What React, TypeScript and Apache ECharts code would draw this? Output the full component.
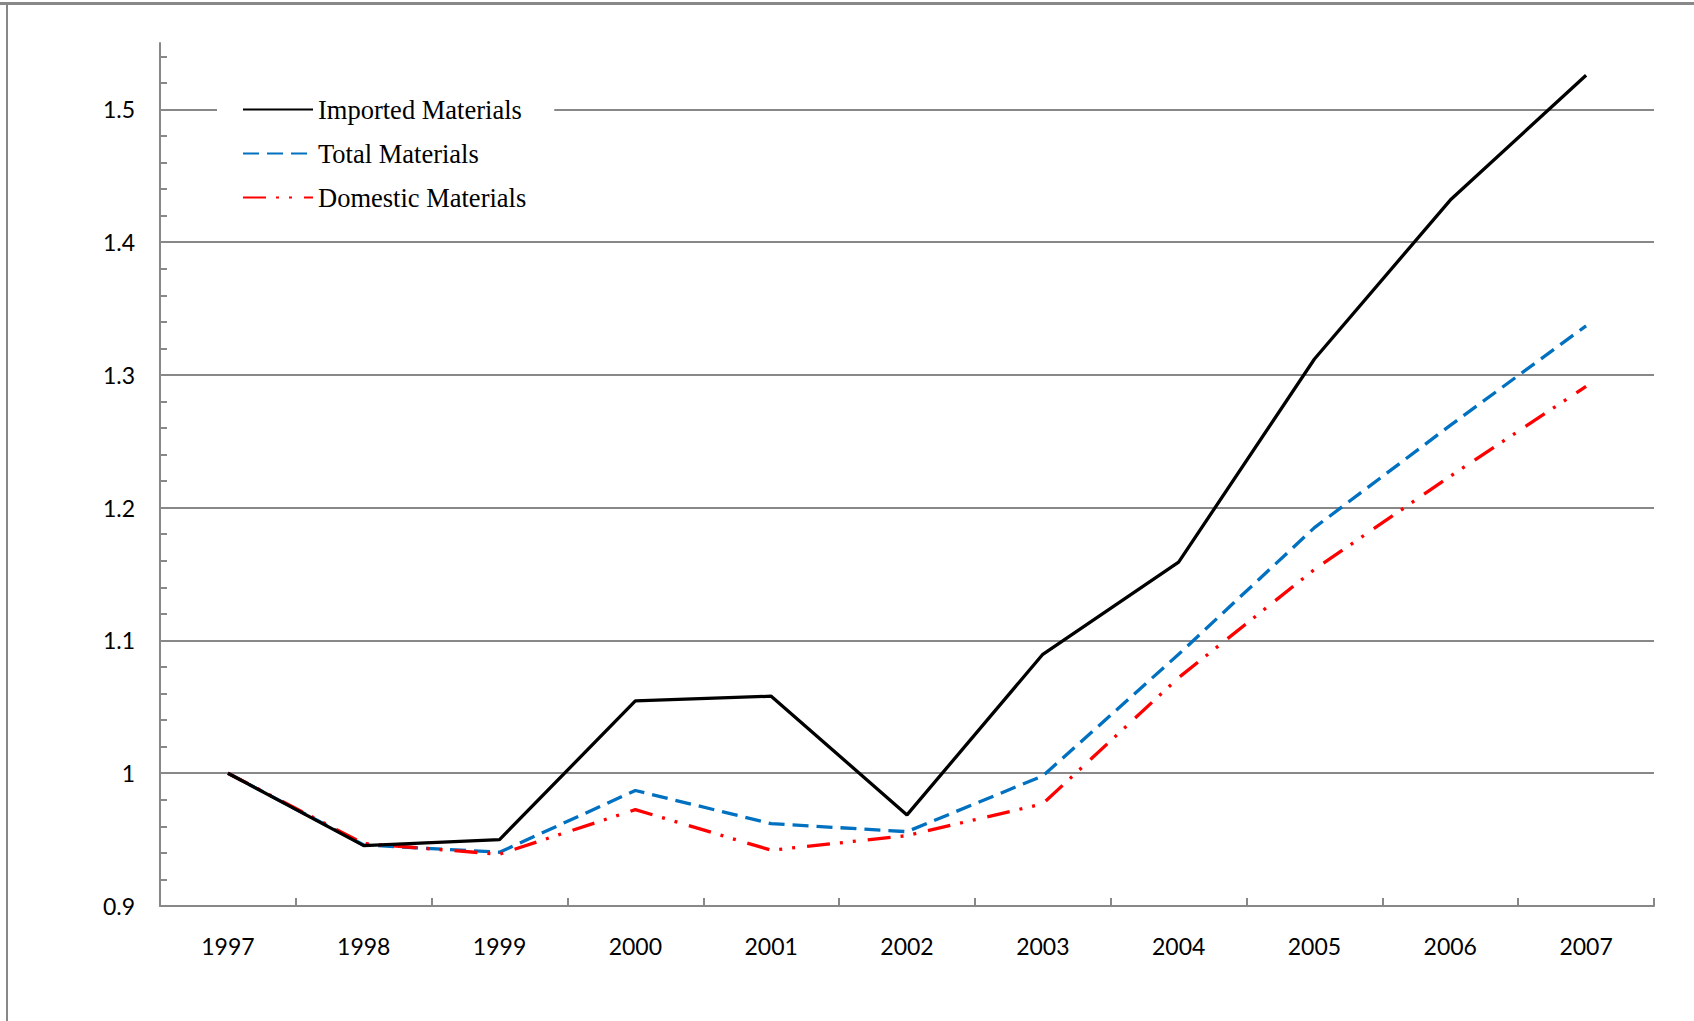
import React, { useEffect, useRef } from "react";
import * as echarts from "echarts";

const years = ["1997", "1998", "1999", "2000", "2001", "2002", "2003", "2004", "2005", "2006", "2007"];
const importedMaterials = [1.0, 0.9455, 0.95, 1.0545, 1.058, 0.9686, 1.0896, 1.159, 1.312, 1.4317, 1.5257];
const totalMaterials = [1.0, 0.946, 0.9405, 0.987, 0.962, 0.956, 0.998, 1.0896, 1.185, 1.262, 1.337];
const domesticMaterials = [1.0, 0.947, 0.939, 0.9726, 0.942, 0.953, 0.977, 1.072, 1.1535, 1.2237, 1.2914];
const yTickValues = [
  0.9, 0.92, 0.94, 0.96, 0.98, 1.0, 1.02, 1.04, 1.06, 1.08, 1.1, 1.12, 1.14, 1.16, 1.18, 1.2, 1.22,
  1.24, 1.26, 1.28, 1.3, 1.32, 1.34, 1.36, 1.38, 1.4, 1.42, 1.44, 1.46, 1.48, 1.5, 1.52, 1.54,
];
const seriesNames = ["Imported Materials", "Total Materials", "Domestic Materials"];

const GRAY = "#888888";

export default function App() {
  const ref = useRef<HTMLDivElement>(null);
  useEffect(() => {
    if (!ref.current) return;
    const chart = echarts.init(ref.current, undefined, { renderer: "svg" });
    const option: any = {
      animation: false,
      backgroundColor: "#ffffff",
      grid: { left: 160, right: 40, top: 43, bottom: 115, containLabel: false },
      legend: {
        orient: "vertical",
        left: 217,
        top: 86,
        padding: [10, 28, 10, 25],
        backgroundColor: "#ffffff",
        itemWidth: 70,
        itemHeight: 26,
        itemGap: 17,
        data: seriesNames,
        itemStyle: { opacity: 0 },
        textStyle: {
          fontFamily: "Liberation Serif",
          fontSize: 26.5,
          color: "#000000",
          lineHeight: 26,
        },
      },
      xAxis: {
        type: "category",
        data: years,
        boundaryGap: true,
        axisLine: { show: true, lineStyle: { color: GRAY, width: 2 } },
        axisTick: { show: true, inside: true, length: 8, interval: 0, lineStyle: { color: GRAY, width: 2 } },
        axisLabel: { fontFamily: "Lato", fontSize: 23, color: "#000000", margin: 28 },
        splitLine: { show: false },
      },
      yAxis: [
        {
          type: "value",
          min: 0.9,
          max: 1.55,
          interval: 0.1,
          axisLine: { show: true, lineStyle: { color: GRAY, width: 2 } },
          axisTick: { show: false },
          axisLabel: {
            fontFamily: "Lato",
            fontSize: 23,
            color: "#000000",
            margin: 25,
            showMaxLabel: false,
          },
          splitLine: { show: true, showMaxLine: false, lineStyle: { color: GRAY, width: 2 } },
        },
        {
          type: "value",
          position: "left",
          min: 0.9,
          max: 1.55,
          interval: 0.02,
          axisLine: { show: false },
          axisTick: {
            show: true,
            inside: true,
            length: 7,
            customValues: yTickValues,
            lineStyle: { color: GRAY, width: 2 },
          },
          axisLabel: { show: false },
          splitLine: { show: false },
        },
      ],
      series: [
        {
          name: seriesNames[0],
          type: "line",
          data: importedMaterials,
          symbol: "none",
          z: 4,
          lineStyle: { color: "#000000", width: 3.3, type: "solid" },
          itemStyle: { color: "#000000" },
        },
        {
          name: seriesNames[1],
          type: "line",
          data: totalMaterials,
          symbol: "none",
          z: 3,
          lineStyle: { color: "#0070C0", width: 3.3, type: [16, 8] },
          itemStyle: { color: "#0070C0" },
        },
        {
          name: seriesNames[2],
          type: "line",
          data: domesticMaterials,
          symbol: "none",
          z: 3,
          lineStyle: { color: "#FF0000", width: 3.3, type: [23, 10, 3, 10, 3, 12] },
          itemStyle: { color: "#FF0000" },
        },
      ],
      graphic: [
        {
          type: "line",
          silent: true,
          shape: { x1: 0, y1: 3.5, x2: 1694, y2: 3.5 },
          style: { stroke: GRAY, lineWidth: 3 },
        },
        {
          type: "line",
          silent: true,
          shape: { x1: 7, y1: 2, x2: 7, y2: 1021 },
          style: { stroke: GRAY, lineWidth: 2 },
        },
      ],
    };
    chart.setOption(option);
    return () => chart.dispose();
  }, []);
  return (
    <div
      ref={ref}
      style={{ position: "fixed", left: 0, top: 0, width: 1694, height: 1021, background: "#fff" }}
    />
  );
}
